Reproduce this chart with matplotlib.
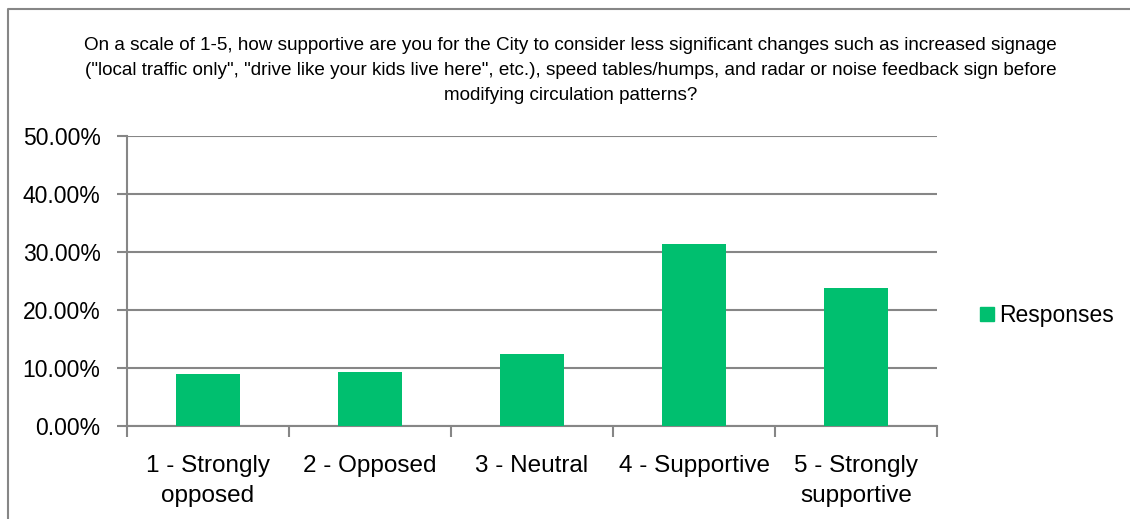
import numpy as np
import matplotlib.pyplot as plt
from matplotlib.lines import Line2D
from matplotlib.patches import Patch
from matplotlib.ticker import FuncFormatter

plt.rcParams['font.family'] = ['Liberation Sans', 'DejaVu Sans']

# survey answers and share of responses (%)
categories = ['1 - Strongly\nopposed', '2 - Opposed', '3 - Neutral',
              '4 - Supportive', '5 - Strongly\nsupportive']
responses = [8.9, 9.3, 12.4, 31.3, 23.8]

title = ('On a scale of 1-5, how supportive are you for the City to consider less significant changes such as increased signage\n'
         '("local traffic only", "drive like your kids live here", etc.), speed tables/humps, and radar or noise feedback sign before\n'
         'modifying circulation patterns?')

grid_col = '#868686'
bar_col = '#00BF6F'

fig = plt.figure(figsize=(11.3, 5.19), dpi=100)
ax = fig.add_axes([0.1124, 0.1792, 0.7168, 0.5588])

# chart frame (only top and left edges are visible)
fig.lines.append(Line2D([0.0075, 0.0075, 1.0], [0.0, 0.982, 0.982], transform=fig.transFigure,
                        color=grid_col, linewidth=1.5))

x = np.arange(len(categories))
ax.bar(x, responses, width=0.4, color=bar_col, zorder=3)

ax.set_xlim(-0.5, len(categories) - 0.5)
ax.set_ylim(0, 50)
ax.set_yticks(np.arange(0, 51, 10))
ax.yaxis.set_major_formatter(FuncFormatter(lambda v, p: '%.2f%%' % v))
ax.grid(axis='y', color=grid_col, linewidth=1.5, zorder=0)

ax.set_xticks(x)
ax.set_xticklabels(categories, fontsize=17.5, linespacing=1.45)
ax.set_xticks(np.arange(-0.5, len(categories)), minor=True)
ax.tick_params(axis='x', which='major', length=0, pad=21)
ax.tick_params(axis='x', which='minor', length=8, color=grid_col, width=1.5)
ax.tick_params(axis='y', length=7, color=grid_col, width=1.5, labelsize=16.5, pad=12)

for s in ['top', 'right']:
    ax.spines[s].set_visible(False)
for s in ['left', 'bottom']:
    ax.spines[s].set_color(grid_col)
    ax.spines[s].set_linewidth(1.5)

fig.text(0.505, 0.929, title, ha='center', va='top', fontsize=13.6, linespacing=1.62)

fig.legend(handles=[Patch(color=bar_col, label='Responses')], loc='center left',
           bbox_to_anchor=(0.849, 0.392), frameon=False, fontsize=16.5,
           handlelength=0.6, handleheight=0.6, handletextpad=0.25)

fig.savefig('out.png', dpi=100)
